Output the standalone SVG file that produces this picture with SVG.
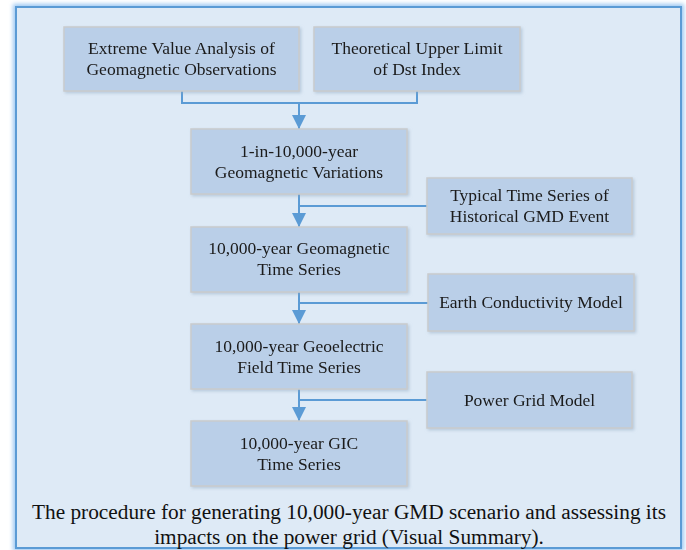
<svg xmlns="http://www.w3.org/2000/svg" width="686" height="550" viewBox="0 0 686 550">
<defs>
<style>
.box{fill:#bacfe8;stroke:#c9cbcd;stroke-width:1.5}
.t{font-size:17.5px;fill:#1a1a1a;text-anchor:middle}
.cap{font-size:21.3px;fill:#111;text-anchor:middle}
.ln{fill:none;stroke:#5b9bd5;stroke-width:2}
</style>
<marker id="ah" viewBox="0 0 10 10" refX="10" refY="5" markerWidth="14" markerHeight="14" markerUnits="userSpaceOnUse" orient="auto">
<path d="M0,0 L10,5 L0,10 Z" fill="#5b9bd5"/>
</marker>
<filter id="glow" x="-5%" y="-5%" width="110%" height="110%">
<feGaussianBlur stdDeviation="2"/>
</filter>
<filter id="sh" x="-10%" y="-10%" width="130%" height="130%">
<feDropShadow dx="1.5" dy="1.5" stdDeviation="1.5" flood-color="#8fa6bf" flood-opacity="0.5"/>
</filter>
</defs>
<rect x="0" y="0" width="686" height="550" fill="#ffffff"/>
<rect x="16" y="7" width="665" height="541" fill="none" stroke="#9cc7f2" stroke-width="6" filter="url(#glow)"/>
<rect x="16" y="7" width="665" height="541" fill="#deeaf6" stroke="#5b9bd5" stroke-width="2"/>

<g id="connectors">
<polyline class="ln" points="182,91 182,103 417,103 417,91"/>
<line class="ln" x1="299" y1="103" x2="299" y2="129" marker-end="url(#ah)"/>
<line class="ln" x1="299" y1="194" x2="299" y2="227" marker-end="url(#ah)"/>
<line class="ln" x1="299" y1="206" x2="427" y2="206"/>
<line class="ln" x1="299" y1="292" x2="299" y2="324" marker-end="url(#ah)"/>
<line class="ln" x1="299" y1="303" x2="428" y2="303"/>
<line class="ln" x1="299" y1="389" x2="299" y2="421" marker-end="url(#ah)"/>
<line class="ln" x1="299" y1="400" x2="427" y2="400"/>
</g>

<g font-family="Liberation Serif, Times New Roman, serif">
<g id="n1" filter="url(#sh)">
<rect class="box" x="64" y="27" width="235" height="64"/>
<text class="t" x="181.5" y="54">Extreme Value Analysis of</text>
<text class="t" x="181.5" y="75">Geomagnetic Observations</text>
</g>
<g id="n2" filter="url(#sh)">
<rect class="box" x="314" y="27" width="206" height="64"/>
<text class="t" x="417" y="54">Theoretical Upper Limit</text>
<text class="t" x="417" y="75">of Dst Index</text>
</g>
<g id="n3" filter="url(#sh)">
<rect class="box" x="191" y="129" width="216" height="65"/>
<text class="t" x="299" y="157">1-in-10,000-year</text>
<text class="t" x="299" y="178">Geomagnetic Variations</text>
</g>
<g id="n4" filter="url(#sh)">
<rect class="box" x="427" y="178" width="205" height="56"/>
<text class="t" x="529.5" y="201">Typical Time Series of</text>
<text class="t" x="529.5" y="222">Historical GMD Event</text>
</g>
<g id="n5" filter="url(#sh)">
<rect class="box" x="191" y="227" width="216" height="65"/>
<text class="t" x="299" y="254">10,000-year Geomagnetic</text>
<text class="t" x="299" y="275">Time Series</text>
</g>
<g id="n6" filter="url(#sh)">
<rect class="box" x="428" y="274" width="206" height="57"/>
<text class="t" x="531" y="308">Earth Conductivity Model</text>
</g>
<g id="n7" filter="url(#sh)">
<rect class="box" x="191" y="324" width="216" height="65"/>
<text class="t" x="299" y="352">10,000-year Geoelectric</text>
<text class="t" x="299" y="373">Field Time Series</text>
</g>
<g id="n8" filter="url(#sh)">
<rect class="box" x="427" y="372" width="205" height="56"/>
<text class="t" x="529.5" y="406">Power Grid Model</text>
</g>
<g id="n9" filter="url(#sh)">
<rect class="box" x="191" y="421" width="216" height="65"/>
<text class="t" x="299" y="449">10,000-year GIC</text>
<text class="t" x="299" y="470">Time Series</text>
</g>

<g id="caption">
<text class="cap" x="349" y="519">The procedure for generating 10,000-year GMD scenario and assessing its</text>
<text class="cap" x="349" y="544">impacts on the power grid (Visual Summary).</text>
</g>
</g>
</svg>
